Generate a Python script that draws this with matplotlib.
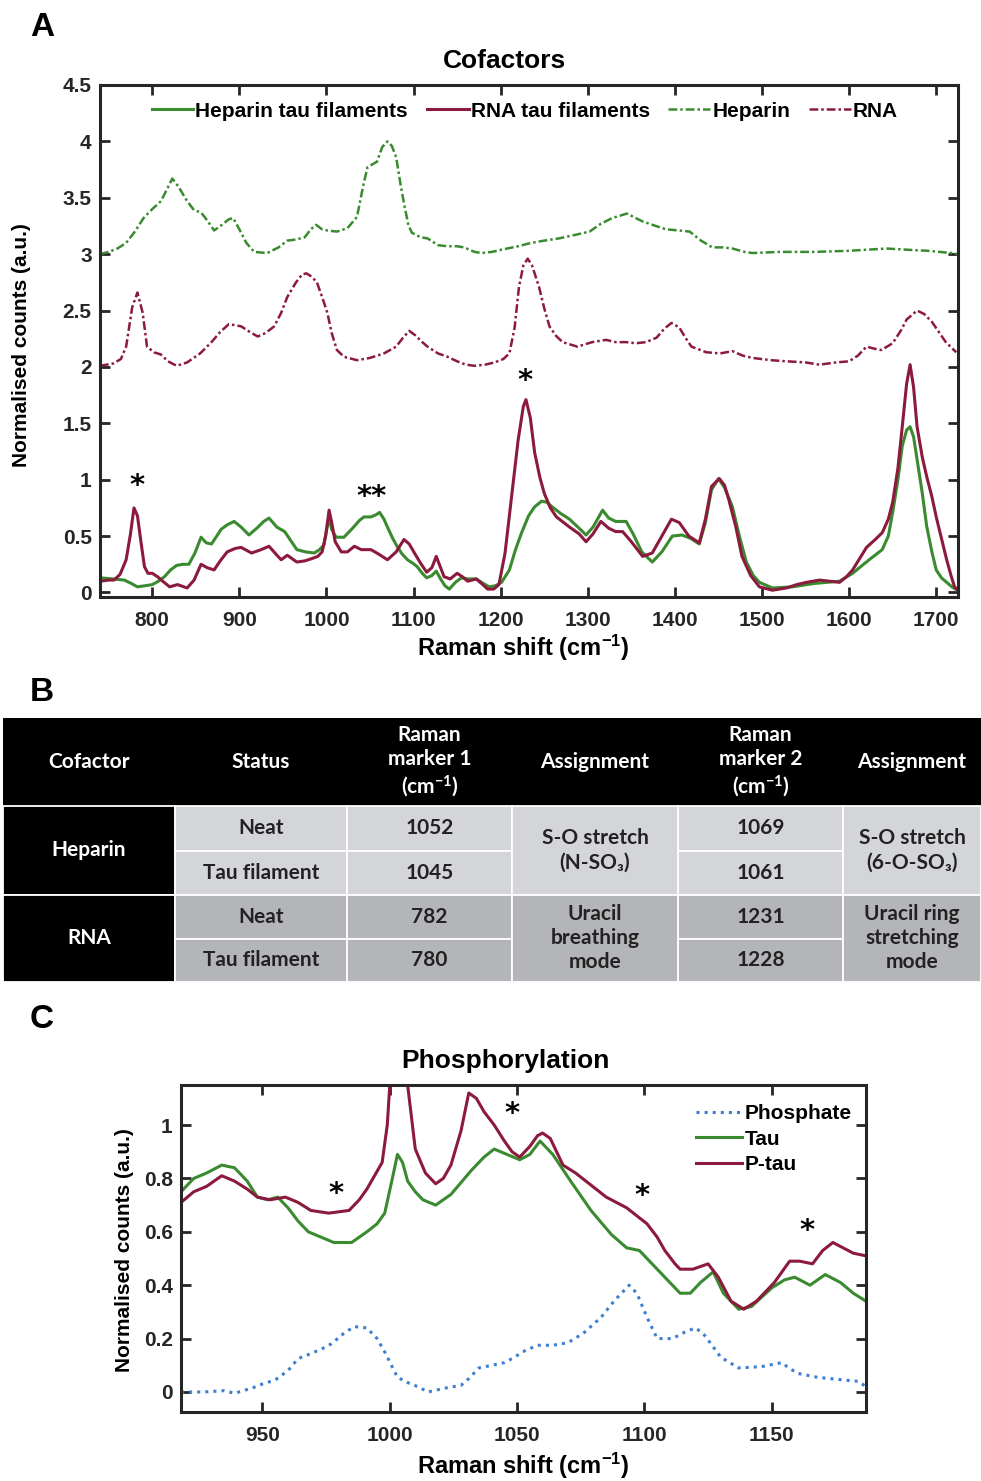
import matplotlib
matplotlib.use("Agg")
import matplotlib.pyplot as plt
from matplotlib.patches import Rectangle
from matplotlib.ticker import FuncFormatter

plt.rcParams['font.family'] = ['Liberation Sans Narrow', 'Liberation Sans', 'DejaVu Sans']
plt.rcParams['font.weight'] = 'bold'
plt.rcParams['mathtext.default'] = 'regular'

# ---- Panel A: cofactors ----
heparin_x = [740, 750, 760, 770, 780, 790, 800, 810, 823, 830, 840, 848, 856, 863, 871, 880, 888, 893,
             900, 908, 917, 932, 945, 955, 965, 975, 982, 988, 995, 1001, 1012, 1024, 1035, 1042, 1047,
             1058, 1064, 1070, 1075, 1080, 1085, 1089, 1094, 1098, 1108, 1116, 1128, 1139, 1150, 1158,
             1170, 1178, 1190, 1201, 1220, 1235, 1250, 1267, 1285, 1302, 1315, 1328, 1345, 1355, 1363,
             1378, 1390, 1405, 1417, 1430, 1443, 1455, 1466, 1480, 1489, 1520, 1560, 1600, 1643, 1665,
             1690, 1718, 1725]
heparin_y = [3.00, 3.02, 3.05, 3.10, 3.20, 3.32, 3.40, 3.47, 3.67, 3.60, 3.47, 3.39, 3.37, 3.30, 3.21,
             3.26, 3.31, 3.32, 3.22, 3.10, 3.02, 3.01, 3.06, 3.12, 3.13, 3.15, 3.22, 3.26, 3.22, 3.21,
             3.20, 3.23, 3.33, 3.60, 3.77, 3.82, 3.95, 4.00, 3.96, 3.86, 3.62, 3.45, 3.26, 3.19, 3.15,
             3.14, 3.08, 3.07, 3.07, 3.06, 3.02, 3.01, 3.02, 3.04, 3.07, 3.10, 3.12, 3.14, 3.17, 3.20,
             3.27, 3.32, 3.36, 3.32, 3.29, 3.25, 3.22, 3.21, 3.20, 3.12, 3.06, 3.06, 3.05, 3.02, 3.01,
             3.02, 3.02, 3.03, 3.05, 3.04, 3.03, 3.01, 3.00]

rna_x = [740, 755, 764, 770, 777, 783, 789, 794, 802, 810, 818, 828, 840, 855, 868, 878, 888, 895, 902,
         912, 921, 930, 940, 948, 955, 965, 972, 977, 983, 989, 995, 1001, 1006, 1012, 1020, 1035, 1050,
         1066, 1080, 1088, 1095, 1102, 1110, 1116, 1128, 1139, 1150, 1160, 1170, 1182, 1193, 1203, 1210,
         1216, 1221, 1226, 1231, 1236, 1244, 1250, 1256, 1263, 1271, 1288, 1305, 1321, 1332, 1344, 1355,
         1367, 1379, 1388, 1396, 1405, 1412, 1419, 1436, 1452, 1466, 1478, 1489, 1510, 1528, 1550, 1566,
         1585, 1600, 1610, 1620, 1630, 1637, 1650, 1660, 1666, 1678, 1686, 1695, 1703, 1711, 1723]
rna_y = [2.01, 2.03, 2.07, 2.18, 2.53, 2.66, 2.48, 2.18, 2.13, 2.11, 2.05, 2.01, 2.04, 2.12, 2.22, 2.31,
         2.38, 2.37, 2.36, 2.31, 2.27, 2.30, 2.36, 2.48, 2.62, 2.75, 2.82, 2.83, 2.80, 2.75, 2.62, 2.48,
         2.30, 2.15, 2.09, 2.06, 2.08, 2.12, 2.18, 2.26, 2.32, 2.28, 2.22, 2.18, 2.12, 2.09, 2.05, 2.02,
         2.01, 2.02, 2.04, 2.07, 2.12, 2.35, 2.71, 2.90, 2.96, 2.90, 2.71, 2.52, 2.36, 2.28, 2.22, 2.18,
         2.22, 2.24, 2.22, 2.22, 2.21, 2.22, 2.26, 2.34, 2.39, 2.35, 2.26, 2.18, 2.13, 2.12, 2.14, 2.10,
         2.08, 2.06, 2.05, 2.04, 2.02, 2.04, 2.05, 2.10, 2.18, 2.16, 2.15, 2.21, 2.33, 2.42, 2.50, 2.47,
         2.40, 2.31, 2.22, 2.13]

rna_tau_x = [740, 750, 756, 763, 770, 775, 779, 783, 787, 791, 795, 800, 806, 812, 820, 829, 840, 848,
             856, 863, 871, 878, 886, 895, 902, 914, 925, 934, 942, 948, 955, 966, 975, 983, 990, 995,
             999, 1003, 1006, 1010, 1017, 1024, 1032, 1040, 1051, 1060, 1070, 1080, 1089, 1095, 1101,
             1108, 1115, 1121, 1126, 1130, 1135, 1142, 1150, 1156, 1162, 1172, 1178, 1185, 1192, 1198,
             1205, 1212, 1220, 1226, 1229, 1234, 1239, 1245, 1250, 1257, 1264, 1279, 1290, 1298, 1306,
             1315, 1324, 1332, 1340, 1350, 1363, 1374, 1385, 1396, 1405, 1416, 1428, 1435, 1442, 1451,
             1457, 1462, 1470, 1477, 1487, 1497, 1512, 1528, 1540, 1551, 1566, 1578, 1589, 1597, 1604,
             1612, 1620, 1630, 1638, 1645, 1650, 1656, 1661, 1666, 1670, 1674, 1678, 1684, 1689, 1695,
             1700, 1706, 1712, 1717, 1721, 1725]
rna_tau_y = [0.10, 0.11, 0.11, 0.16, 0.29, 0.52, 0.75, 0.68, 0.45, 0.23, 0.17, 0.17, 0.14, 0.10, 0.05,
             0.07, 0.04, 0.11, 0.25, 0.22, 0.20, 0.28, 0.36, 0.39, 0.40, 0.35, 0.38, 0.41, 0.34, 0.29,
             0.33, 0.27, 0.28, 0.30, 0.32, 0.36, 0.50, 0.73, 0.62, 0.45, 0.36, 0.36, 0.41, 0.38, 0.38,
             0.34, 0.29, 0.36, 0.47, 0.43, 0.35, 0.26, 0.18, 0.22, 0.32, 0.24, 0.14, 0.12, 0.17, 0.14,
             0.10, 0.12, 0.08, 0.03, 0.03, 0.07, 0.35, 0.82, 1.35, 1.65, 1.71, 1.55, 1.24, 1.02, 0.88,
             0.75, 0.67, 0.58, 0.52, 0.45, 0.52, 0.63, 0.57, 0.54, 0.54, 0.45, 0.32, 0.35, 0.50, 0.65,
             0.62, 0.50, 0.44, 0.65, 0.94, 1.01, 0.95, 0.82, 0.58, 0.32, 0.15, 0.05, 0.02, 0.04, 0.07,
             0.09, 0.11, 0.10, 0.09, 0.14, 0.20, 0.30, 0.40, 0.47, 0.53, 0.65, 0.80, 1.10, 1.47, 1.85,
             2.02, 1.82, 1.47, 1.20, 1.03, 0.85, 0.67, 0.48, 0.29, 0.15, 0.05, 0.02]

hep_tau_x = [740, 755, 768, 776, 783, 792, 800, 807, 814, 821, 828, 835, 842, 849, 856, 862, 868, 874,
             879, 886, 894, 902, 911, 920, 928, 934, 943, 952, 959, 966, 976, 986, 992, 997, 1000, 1003,
             1006, 1011, 1020, 1030, 1038, 1043, 1051, 1057, 1061, 1066, 1070, 1076, 1081, 1087, 1093,
             1099, 1104, 1110, 1115, 1121, 1126, 1131, 1136, 1141, 1148, 1155, 1163, 1172, 1180, 1187,
             1194, 1201, 1210, 1217, 1224, 1232, 1239, 1247, 1253, 1259, 1269, 1279, 1290, 1298, 1306,
             1317, 1324, 1332, 1344, 1352, 1362, 1374, 1385, 1397, 1408, 1418, 1428, 1435, 1442, 1450,
             1457, 1466, 1474, 1482, 1490, 1497, 1512, 1535, 1560, 1589, 1604, 1615, 1623, 1638, 1645,
             1650, 1656, 1661, 1666, 1670, 1674, 1678, 1684, 1689, 1695, 1700, 1706, 1712, 1718, 1722,
             1725]
hep_tau_y = [0.13, 0.12, 0.11, 0.08, 0.05, 0.06, 0.07, 0.10, 0.14, 0.20, 0.24, 0.25, 0.25, 0.35, 0.49,
             0.44, 0.43, 0.50, 0.56, 0.60, 0.63, 0.58, 0.51, 0.57, 0.63, 0.66, 0.58, 0.54, 0.46, 0.38,
             0.36, 0.35, 0.38, 0.42, 0.55, 0.66, 0.56, 0.49, 0.49, 0.57, 0.64, 0.67, 0.67, 0.69, 0.71,
             0.65, 0.58, 0.48, 0.41, 0.34, 0.29, 0.26, 0.23, 0.17, 0.13, 0.15, 0.19, 0.12, 0.06, 0.03,
             0.09, 0.13, 0.12, 0.12, 0.08, 0.05, 0.06, 0.09, 0.20, 0.38, 0.53, 0.68, 0.76, 0.81, 0.80,
             0.76, 0.70, 0.65, 0.57, 0.51, 0.58, 0.73, 0.66, 0.63, 0.63, 0.52, 0.36, 0.27, 0.36, 0.50,
             0.51, 0.48, 0.43, 0.62, 0.91, 1.01, 0.93, 0.76, 0.50, 0.27, 0.15, 0.09, 0.04, 0.05, 0.08,
             0.10, 0.17, 0.24, 0.29, 0.38, 0.50, 0.71, 1.00, 1.30, 1.44, 1.47, 1.38, 1.18, 0.88, 0.59,
             0.36, 0.20, 0.13, 0.09, 0.05, 0.03, 0.02]

# asterisks marking the cofactor bands
star_a_x = [782, 1052, 1228]
star_a_y = [0.82, 0.72, 1.75]
star_a_txt = ['*', '**', '*']

# ---- Panel C: phosphorylation ----
ptau_x = [918, 923, 928, 934, 939, 944, 948, 953, 959, 964, 969, 976, 984, 988, 991, 994, 997, 999,
          1001, 1003, 1005, 1007, 1010, 1014, 1018, 1021, 1024, 1028, 1031, 1034, 1037, 1041, 1045,
          1048, 1051, 1055, 1058, 1060, 1063, 1068, 1073, 1077, 1081, 1085, 1089, 1093, 1097, 1101,
          1105, 1108, 1112, 1114, 1119, 1122, 1125, 1129, 1134, 1139, 1144, 1151, 1157, 1161, 1166,
          1170, 1174, 1178, 1182, 1187]
ptau_y = [0.71, 0.75, 0.77, 0.81, 0.79, 0.76, 0.73, 0.72, 0.73, 0.71, 0.68, 0.67, 0.68, 0.72, 0.76,
          0.81, 0.86, 1.00, 1.30, 1.50, 1.35, 1.15, 0.91, 0.82, 0.78, 0.80, 0.85, 0.98, 1.12, 1.10,
          1.05, 1.00, 0.94, 0.90, 0.88, 0.92, 0.96, 0.97, 0.95, 0.85, 0.82, 0.79, 0.76, 0.73, 0.71,
          0.69, 0.66, 0.63, 0.58, 0.53, 0.48, 0.46, 0.46, 0.47, 0.48, 0.43, 0.34, 0.31, 0.34, 0.41,
          0.49, 0.49, 0.48, 0.53, 0.56, 0.54, 0.52, 0.51]

tau_x = [918, 923, 928, 934, 939, 944, 948, 952, 956, 960, 964, 968, 973, 978, 985, 991, 995, 998,
         1001, 1003, 1005, 1007, 1010, 1013, 1018, 1024, 1032, 1037, 1041, 1046, 1051, 1055, 1059, 1064,
         1071, 1079, 1087, 1093, 1098, 1102, 1109, 1114, 1118, 1122, 1127, 1131, 1137, 1142, 1150, 1155,
         1159, 1165, 1171, 1177, 1182, 1187]
tau_y = [0.75, 0.80, 0.82, 0.85, 0.84, 0.79, 0.73, 0.72, 0.73, 0.69, 0.64, 0.60, 0.58, 0.56, 0.56,
         0.60, 0.63, 0.67, 0.80, 0.89, 0.86, 0.79, 0.75, 0.72, 0.70, 0.74, 0.83, 0.88, 0.91, 0.89,
         0.87, 0.89, 0.94, 0.89, 0.79, 0.68, 0.59, 0.54, 0.53, 0.49, 0.42, 0.37, 0.37, 0.41, 0.45,
         0.37, 0.31, 0.32, 0.39, 0.42, 0.43, 0.40, 0.44, 0.41, 0.37, 0.34]

phos_x = [918, 927, 935, 939, 946, 950, 955, 960, 964, 968, 973, 977, 982, 986, 991, 995, 998, 1003,
          1007, 1011, 1015, 1022, 1028, 1031, 1035, 1040, 1045, 1049, 1052, 1058, 1064, 1070, 1076, 1083,
          1088, 1094, 1097, 1101, 1105, 1111, 1116, 1120, 1123, 1130, 1137, 1146, 1154, 1156, 1160,
          1168, 1178, 1184, 1187]
phos_y = [0.00, 0.00, 0.005, -0.005, 0.015, 0.03, 0.045, 0.08, 0.125, 0.14, 0.16, 0.18, 0.22, 0.245,
          0.24, 0.20, 0.15, 0.055, 0.035, 0.02, 0.00, 0.015, 0.025, 0.05, 0.09, 0.10, 0.11, 0.13, 0.15,
          0.175, 0.175, 0.185, 0.22, 0.28, 0.34, 0.40, 0.37, 0.28, 0.20, 0.20, 0.225, 0.24, 0.22, 0.13,
          0.09, 0.095, 0.11, 0.095, 0.07, 0.055, 0.045, 0.04, 0.02]

star_c_x = [979, 1048, 1099, 1164]
star_c_y = [0.69, 0.99, 0.68, 0.55]

# ---- Panel B: table ----
table_header = ['Cofactor', 'Status', 'Raman\nmarker 1\n(cm$^{-1}$)', 'Assignment',
                'Raman\nmarker 2\n(cm$^{-1}$)', 'Assignment']
cofactors = ['Heparin', 'RNA']
statuses = ['Neat', 'Tau filament']
marker1 = [['1052', '1045'], ['782', '780']]
marker2 = [['1069', '1061'], ['1231', '1228']]
assign1 = ['S-O stretch\n(N-SO₃)', 'Uracil\nbreathing\nmode']
assign2 = ['S-O stretch\n(6-O-SO₃)', 'Uracil ring\nstretching\nmode']

GREEN = '#3a8a30'
RED = '#8c1a3c'
BLUE = '#3d7fd0'
INK = '#222222'

W, H = 981, 1481
fig = plt.figure(figsize=(W / 100, H / 100), dpi=100)


def style_axes(ax):
    for s in ax.spines.values():
        s.set_linewidth(2.2)
        s.set_color('#262626')
    ax.tick_params(direction='in', length=7, width=2, top=True, right=True,
                   labelsize=15, colors='#262626')
    ax.tick_params(axis='x', pad=10)
    ax.tick_params(axis='y', pad=6)
    ax.yaxis.set_major_formatter(FuncFormatter(lambda v, p: f'{v:g}'))


# ===== Panel A =====
axA = fig.add_axes([100 / W, 1 - 597 / H, 858 / W, 512 / H])
axA.plot(hep_tau_x, hep_tau_y, color=GREEN, lw=2.2, label='Heparin tau filaments')
axA.plot(rna_tau_x, rna_tau_y, color=RED, lw=2.2, label='RNA tau filaments')
axA.plot(heparin_x, heparin_y, color=GREEN, lw=1.8, ls=(0, (3.5, 1.2, 1, 1.2)), label='Heparin')
axA.plot(rna_x, rna_y, color=RED, lw=1.8, ls=(0, (3.5, 1.2, 1, 1.2)), label='RNA')
for sx, sy, st in zip(star_a_x, star_a_y, star_a_txt):
    axA.text(sx, sy, st, ha='center', va='bottom', fontsize=21, color='black',
             family=['DejaVu Sans'], fontweight='bold')
axA.set_xlim(740, 1725)
axA.set_ylim(-0.04, 4.5)
axA.set_xticks([800, 900, 1000, 1100, 1200, 1300, 1400, 1500, 1600, 1700])
axA.set_yticks([0, 0.5, 1, 1.5, 2, 2.5, 3, 3.5, 4, 4.5])
style_axes(axA)
axA.legend(loc='center', bbox_to_anchor=(0.495, 0.949), ncol=4, frameon=False, fontsize=15,
           handlelength=2.0, handletextpad=0.1, columnspacing=0.9)
fig.text(505 / W, 1 - 61 / H, 'Cofactors', ha='center', va='center', fontsize=19)
fig.text(523 / W, 1 - 648 / H, 'Raman shift (cm$^{-1}$)', ha='center', va='center', fontsize=17)
fig.text(22 / W, 1 - 345 / H, 'Normalised counts (a.u.)', ha='center', va='center', fontsize=15,
         rotation=90, family=['Liberation Sans', 'DejaVu Sans'])

# ===== Panel B =====
col_w = [172, 172, 165, 166, 165, 138]
row_h = [88, 45, 44, 44, 43]
light = '#d3d5d8'
dark = '#b3b5b8'
axB = fig.add_axes([3 / W, 1 - 982 / H, 978 / W, 264 / H])
axB.set_xlim(0, sum(col_w))
axB.set_ylim(sum(row_h), 0)
axB.axis('off')
xs = [sum(col_w[:i]) for i in range(len(col_w) + 1)]
ys = [sum(row_h[:i]) for i in range(len(row_h) + 1)]
tfont = dict(family=['Lato', 'DejaVu Sans'], fontsize=15, fontweight='bold', ha='center', va='center')


def cell(c0, c1, r0, r1, face, txt, tcolor):
    axB.add_patch(Rectangle((xs[c0], ys[r0]), xs[c1] - xs[c0], ys[r1] - ys[r0],
                            facecolor=face, edgecolor='white', lw=1.3))
    axB.text((xs[c0] + xs[c1]) / 2, (ys[r0] + ys[r1]) / 2, txt, color=tcolor,
             linespacing=1.25, **tfont)


for j, h in enumerate(table_header):
    axB.add_patch(Rectangle((xs[j], 0), col_w[j], row_h[0], facecolor='black', edgecolor='black'))
    axB.text((xs[j] + xs[j + 1]) / 2, row_h[0] / 2, h, color='white', linespacing=1.25, **tfont)
for g, name in enumerate(cofactors):
    r = 1 + 2 * g
    face = light if g == 0 else dark
    cell(0, 1, r, r + 2, 'black', name, 'white')
    for k in range(2):
        cell(1, 2, r + k, r + k + 1, face, statuses[k], INK)
        cell(2, 3, r + k, r + k + 1, face, marker1[g][k], INK)
        cell(4, 5, r + k, r + k + 1, face, marker2[g][k], INK)
    cell(3, 4, r, r + 2, face, assign1[g], INK)
    cell(5, 6, r, r + 2, face, assign2[g], INK)

# ===== Panel C =====
axC = fig.add_axes([181 / W, 1 - 1412 / H, 685 / W, 327 / H])
axC.plot(phos_x, phos_y, color=BLUE, lw=2.2, ls=':', label='Phosphate')
axC.plot(tau_x, tau_y, color=GREEN, lw=2.2, label='Tau')
axC.plot(ptau_x, ptau_y, color=RED, lw=2.2, label='P-tau')
for sx, sy in zip(star_c_x, star_c_y):
    axC.text(sx, sy, '*', ha='center', va='bottom', fontsize=21, color='black',
             family=['DejaVu Sans'], fontweight='bold')
axC.set_xlim(918, 1187)
axC.set_ylim(-0.075, 1.15)
axC.set_xticks([950, 1000, 1050, 1100, 1150])
axC.set_yticks([0, 0.2, 0.4, 0.6, 0.8, 1])
style_axes(axC)
axC.legend(loc='upper right', bbox_to_anchor=(1.0, 0.985), frameon=False, fontsize=15,
           handlelength=2.2, handletextpad=0.1, labelspacing=0.3, borderaxespad=0.3)
fig.text(505 / W, 1 - 1061 / H, 'Phosphorylation', ha='center', va='center', fontsize=19)
fig.text(523 / W, 1 - 1466 / H, 'Raman shift (cm$^{-1}$)', ha='center', va='center', fontsize=17)
fig.text(125 / W, 1 - 1250 / H, 'Normalised counts (a.u.)', ha='center', va='center', fontsize=15,
         rotation=90, family=['Liberation Sans', 'DejaVu Sans'])

# panel letters
for letter, py in [('A', 28), ('B', 693), ('C', 1020)]:
    fig.text(42 / W, 1 - py / H, letter, ha='center', va='center', fontsize=24,
             family=['Liberation Sans', 'DejaVu Sans'])

fig.savefig('out.png', dpi=100)
